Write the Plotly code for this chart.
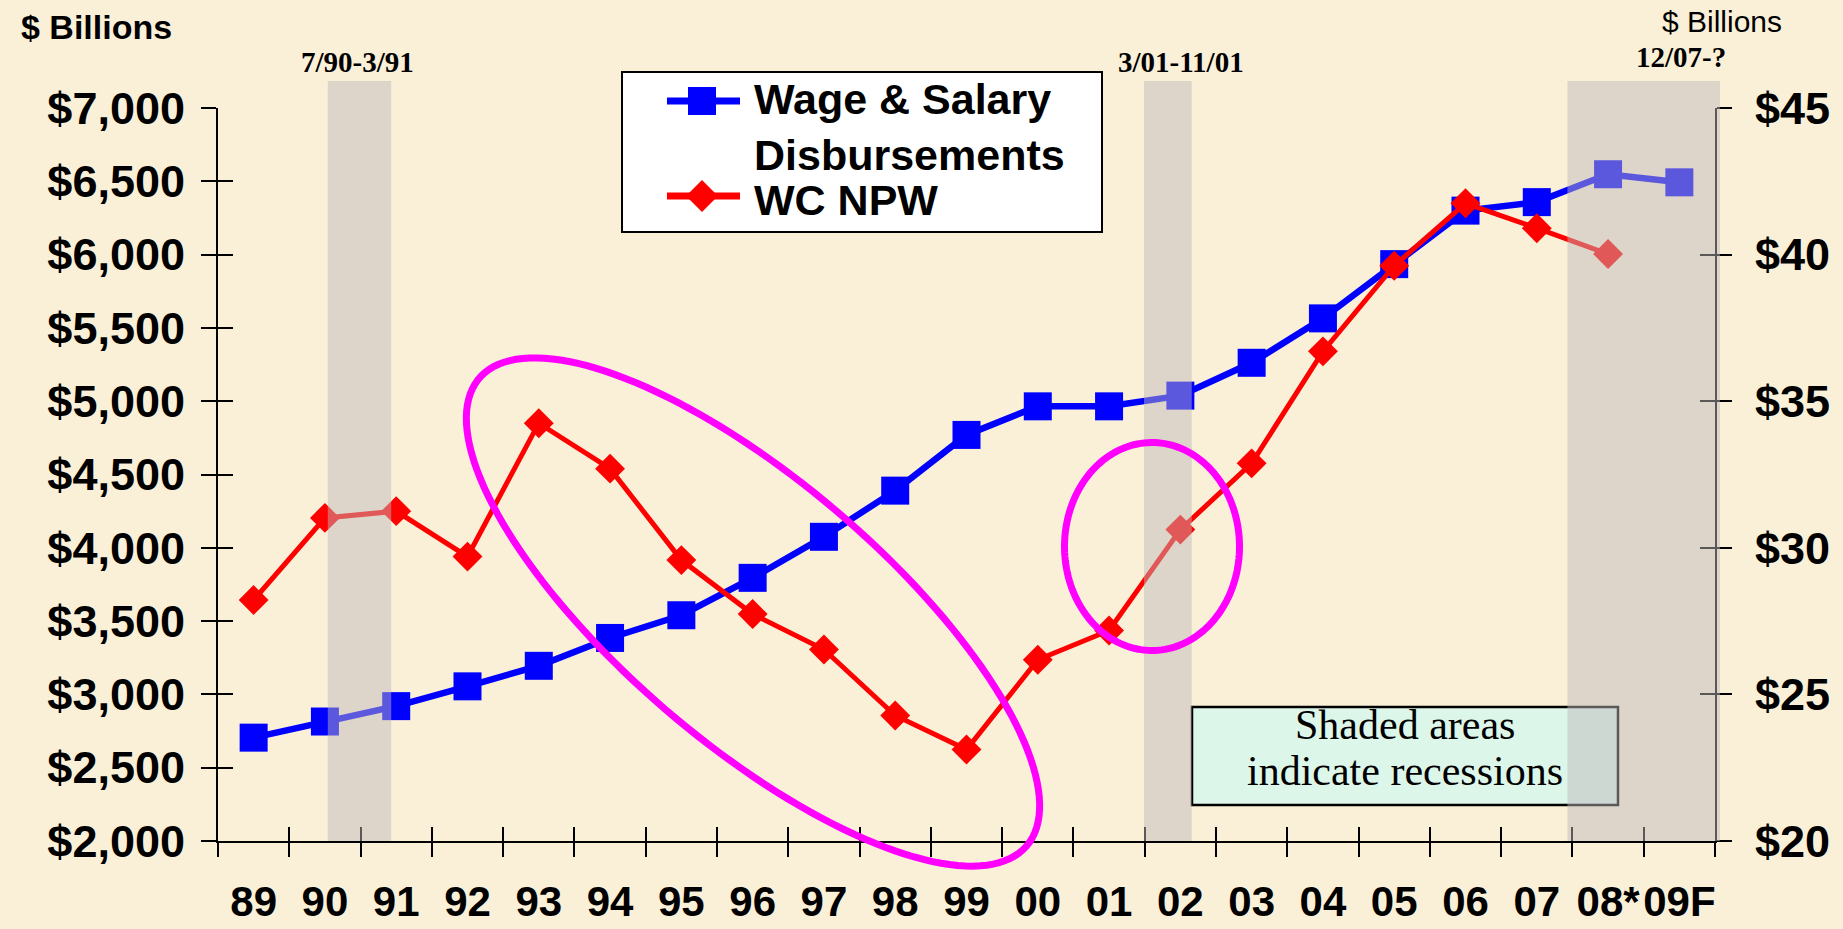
import numpy as np
import plotly.graph_objects as go

# ---- data ----
years = ["89", "90", "91", "92", "93", "94", "95", "96", "97", "98", "99",
         "00", "01", "02", "03", "04", "05", "06", "07", "08*", "09F"]
wage_salary = [2705, 2815, 2920, 3055, 3195, 3385, 3540, 3795, 4075, 4390, 4770,
               4965, 4965, 5038, 5262, 5565, 5935, 6300, 6358, 6548, 6493]
wc_npw = [28.22, 31.02, 31.25, 29.70, 34.25, 32.70, 29.58, 27.74, 26.53, 24.28, 23.12,
          26.18, 27.18, 30.62, 32.88, 36.70, 39.62, 41.75, 40.90, 40.02, None]

recession_labels = ["7/90-3/91", "3/01-11/01", "12/07-?"]
# shaded periods in category units (0 = '89)
recession_start = [1.04, 12.49, 18.43]
recession_end = [1.93, 13.16, 20.57]

# ---- styling / layout ----
BG = "#FAF0D8"
BLUE = "#0000FF"
RED = "#FF0000"
MAGENTA = "#FF00FF"
SANS = "Liberation Sans, Arial, sans-serif"
SERIF = "Liberation Serif, Times New Roman, serif"

W, H = 1843, 929
ML, MR, MT, MB = 218, 128, 108, 88
PW, PH = W - ML - MR, H - MT - MB
N = len(years)


def fx(x):  # pixel -> paper
    return (x - ML) / PW


def fy(y):
    return (H - MB - y) / PH


def cat_x(i):  # category position -> paper
    return (i + 0.5) / N


def ellipse_path(cx, cy, a, b, deg, n=160):
    t = np.linspace(0, 2 * np.pi, n)
    th = np.radians(deg)
    xs = cx + a * np.cos(th) * np.cos(t) - b * np.sin(th) * np.sin(t)
    ys = cy + a * np.sin(th) * np.cos(t) + b * np.cos(th) * np.sin(t)
    pts = ["%.5f,%.5f" % (fx(x), fy(y)) for x, y in zip(xs, ys)]
    return "M" + " L".join(pts) + " Z"


fig = go.Figure()
fig.add_trace(go.Scatter(x=years, y=wage_salary, name="Wage & Salary Disbursements",
                         mode="lines+markers", line=dict(color=BLUE, width=6.5),
                         marker=dict(symbol="square", size=28, color=BLUE)))
fig.add_trace(go.Scatter(x=years, y=wc_npw, name="WC NPW", yaxis="y2",
                         mode="lines+markers", line=dict(color=RED, width=5),
                         marker=dict(symbol="diamond", size=23, color=RED)))
# invisible copies so the overlay axes (inner half of the crossing ticks) get drawn
for xa, ya, yv in [("x2", "y", wage_salary), ("x", "y3", wage_salary), ("x", "y4", wc_npw)]:
    fig.add_trace(go.Scatter(x=years, y=yv, xaxis=xa, yaxis=ya, mode="lines",
                             line=dict(width=0), opacity=0, hoverinfo="skip",
                             showlegend=False))

common = dict(tickcolor="black", tickwidth=2, showgrid=False, zeroline=False,
              automargin=False)
xcat = dict(type="category", categoryorder="array", categoryarray=years,
            range=[-0.5, N - 0.5], tickson="boundaries")
yfont = dict(family=SANS, size=45, color="black", weight="bold")

fig.update_layout(
    width=W, height=H,
    margin=dict(l=ML, r=MR, t=MT, b=MB),
    paper_bgcolor=BG, plot_bgcolor=BG,
    showlegend=False,
    xaxis=dict(**xcat, **common, ticks="outside", ticklen=14, showline=True,
               linecolor="black", linewidth=2, tickangle=0, ticklabelstandoff=23,
               tickfont=dict(family=SANS, size=42, color="black", weight="bold")),
    xaxis2=dict(**xcat, **common, overlaying="x", anchor="y", side="bottom",
                ticks="inside", ticklen=14, showticklabels=False),
    yaxis=dict(range=[2000, 7000], tick0=2000, dtick=500, ticks="outside", ticklen=15,
               showline=True, linecolor="black", linewidth=2, tickprefix="$",
               tickformat=",", tickfont=yfont, ticklabelstandoff=7, **common),
    yaxis2=dict(range=[20, 45], tick0=20, dtick=5, overlaying="y", side="right",
                anchor="x", ticks="outside", ticklen=15, showline=True,
                linecolor="black", linewidth=2, tickprefix="$", tickfont=yfont,
                ticklabelstandoff=14, **common),
    yaxis3=dict(range=[2000, 7000], tick0=2000, dtick=500, overlaying="y", side="left",
                anchor="x", ticks="inside", ticklen=15, showticklabels=False, **common),
    yaxis4=dict(range=[20, 45], tick0=20, dtick=5, overlaying="y", side="right",
                anchor="x", ticks="inside", ticklen=15, showticklabels=False, **common),
)

shapes = []
# note box (drawn before the bands so the band tints it)
shapes.append(dict(type="rect", xref="paper", yref="paper", layer="above",
                   x0=fx(1192), x1=fx(1618), y0=fy(805), y1=fy(707),
                   fillcolor="#DDF6EA", line=dict(color="black", width=2.5)))
# recession bands
for s, e in zip(recession_start, recession_end):
    shapes.append(dict(type="rect", xref="paper", yref="paper", layer="above",
                       x0=cat_x(s), x1=cat_x(e), y0=0, y1=fy(81),
                       fillcolor="rgba(190,184,184,0.48)", line=dict(width=0)))
# magenta ellipses
shapes.append(dict(type="path", xref="paper", yref="paper", layer="above",
                   path=ellipse_path(753, 612, 360, 131, 40.5),
                   line=dict(color=MAGENTA, width=7), fillcolor="rgba(0,0,0,0)"))
shapes.append(dict(type="path", xref="paper", yref="paper", layer="above",
                   path=ellipse_path(1152, 546.5, 87.5, 104, 0),
                   line=dict(color=MAGENTA, width=7), fillcolor="rgba(0,0,0,0)"))
# legend box and symbols
shapes.append(dict(type="rect", xref="paper", yref="paper", layer="above",
                   x0=fx(622), x1=fx(1102), y0=fy(232), y1=fy(72),
                   fillcolor="white", line=dict(color="black", width=2)))
for ly, col in [(101, BLUE), (196, RED)]:
    shapes.append(dict(type="line", xref="paper", yref="paper", layer="above",
                       x0=fx(667), x1=fx(740), y0=fy(ly), y1=fy(ly),
                       line=dict(color=col, width=7)))
shapes.append(dict(type="rect", xref="paper", yref="paper", layer="above",
                   x0=fx(688), x1=fx(716), y0=fy(115), y1=fy(87),
                   fillcolor=BLUE, line=dict(width=0)))
shapes.append(dict(type="path", xref="paper", yref="paper", layer="above",
                   path="M%.5f,%.5f L%.5f,%.5f L%.5f,%.5f L%.5f,%.5f Z" % (
                       fx(702), fy(180), fx(718), fy(196), fx(702), fy(212), fx(686), fy(196)),
                   fillcolor=RED, line=dict(width=0)))
fig.update_layout(shapes=shapes)

ann = []


def text(x, y, s, size, family=SANS, weight="bold", xanchor="center"):
    ann.append(dict(x=fx(x), y=fy(y), xref="paper", yref="paper", text=s,
                    showarrow=False, xanchor=xanchor, yanchor="middle",
                    font=dict(family=family, size=size, color="black", weight=weight)))


text(96, 27, "$ Billions", 34)
text(1722, 22, "$ Billions", 30, weight="normal")
for lbl, x in zip(recession_labels, [357, 1181, 1681]):
    text(x, 62 if lbl != "12/07-?" else 57, lbl, 29, family=SERIF)
text(752, 99, "Wage & Salary", 43, xanchor="left")
text(752, 155, "Disbursements", 43, xanchor="left")
text(752, 200, "WC NPW", 43, xanchor="left")
text(1405, 725, "Shaded areas", 42, family=SERIF, weight="normal")
text(1405, 771, "indicate recessions", 42, family=SERIF, weight="normal")
fig.update_layout(annotations=ann)

fig.write_html("out.html", config={"displayModeBar": False},
               post_script="document.body.style.margin='0';")
